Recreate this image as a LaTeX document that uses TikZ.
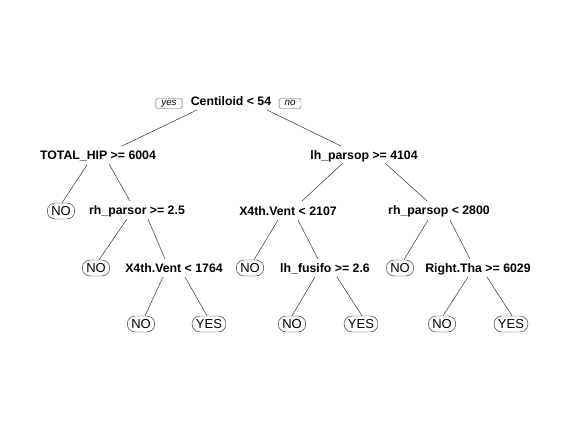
\documentclass[tikz,border=0pt]{standalone}
\usepackage{fontspec}
\setmainfont{Liberation Sans}
\usetikzlibrary{positioning,calc}

\begin{document}
\begin{tikzpicture}[x=1pt,y=-1pt,
    split/.style={font=\fontsize{12.3}{14}\selectfont\bfseries, inner sep=0pt, text height=8.9pt, text depth=0pt},
    leaf/.style={draw=black!85, rounded corners=8pt, minimum height=16pt, inner xsep=4pt, inner ysep=0pt, text height=9.2pt, text depth=0pt, font=\fontsize{13}{15}\selectfont},
    tag/.style={draw=black!70, rounded corners=1.5pt, minimum height=10pt, inner xsep=5.5pt, inner ysep=0pt, text height=5.8pt, text depth=1.8pt, font=\fontsize{9.8}{11}\selectfont\itshape},
    branch/.style={draw=black!80, line width=0.5pt}]
    \useasboundingbox (0,0) rectangle (571,423);
    \begin{scope} % Split labels
        \node[split] (root) at (231,101) {Centiloid < 54};
        \node[split] (hip) at (98,155) {TOTAL\_HIP >= 6004};
        \node[split] (lhp) at (364,155) {lh\_parsop >= 4104};
        \node[split] (rhps) at (137,210) {rh\_parsor >= 2.5};
        \node[split] (xva) at (288,211) {X4th.Vent < 2107};
        \node[split] (rhp) at (439,210) {rh\_parsop < 2800};
        \node[split] (xvb) at (174,268) {X4th.Vent < 1764};
        \node[split] (lhf) at (325,268) {lh\_fusifo >= 2.6};
        \node[split] (rt) at (478,268) {Right.Tha >= 6029};
    \end{scope}
    \begin{scope} % yes / no tags
        \node[tag] (yes) at (169,103.5) {yes};
        \node[tag] (no) at (290,103.5) {no};
    \end{scope}
    \begin{scope} % Leaves
        \node[leaf] (l1) at (61,211) {NO};
        \node[leaf] (l2) at (96,268) {NO};
        \node[leaf] (l3) at (141,324) {NO};
        \node[leaf] (l4) at (209,324) {YES};
        \node[leaf] (l5) at (250,268) {NO};
        \node[leaf] (l6) at (292,324) {NO};
        \node[leaf] (l7) at (361,324) {YES};
        \node[leaf] (l8) at (400,268) {NO};
        \node[leaf] (l9) at (442,324) {NO};
        \node[leaf] (l10) at (511,324) {YES};
    \end{scope}

% Branches from each split to its children
\draw[branch] ($(root)+(-34,9)$) -- ($(hip)+(24,-9)$);
\draw[branch] ($(root)+(36,9)$) -- ($(lhp)+(-23,-9)$);
\draw[branch] ($(hip)+(-11,10)$) -- ($(l1.north)+(1,0)$);
\draw[branch] ($(hip)+(11,9)$) -- ($(rhps)+(-7,-9)$);
\draw[branch] ($(lhp)+(-21,8)$) -- ($(xva)+(14,-10)$);
\draw[branch] ($(lhp)+(21,8)$) -- ($(rhp)+(-12,-9)$);
\draw[branch] ($(rhps)+(-10,9)$) -- ($(l2.north)+(3,0)$);
\draw[branch] ($(rhps)+(11,9)$) -- ($(xvb)+(-9,-9)$);
\draw[branch] ($(xva)+(-10,9)$) -- ($(l5.north)+(4,0)$);
\draw[branch] ($(xva)+(10,9)$) -- ($(lhf)+(-7,-9)$);
\draw[branch] ($(rhp)+(-11,10)$) -- ($(l8.north)+(4,0)$);
\draw[branch] ($(rhp)+(11,10)$) -- ($(rt)+(-8,-9)$);
\draw[branch] ($(xvb)+(-11,9)$) -- ($(l3.north)+(4,0)$);
\draw[branch] ($(xvb)+(11,9)$) -- ($(l4.north)+(-2,0)$);
\draw[branch] ($(lhf)+(-10,9)$) -- (l6.north);
\draw[branch] ($(lhf)+(12,9)$) -- ($(l7.north)+(1,0)$);
\draw[branch] ($(rt)+(-10,9)$) -- ($(l9.north)+(1,0)$);
\draw[branch] ($(rt)+(9,9)$) -- ($(l10.north)+(1,0)$);

\end{tikzpicture}
\end{document}
